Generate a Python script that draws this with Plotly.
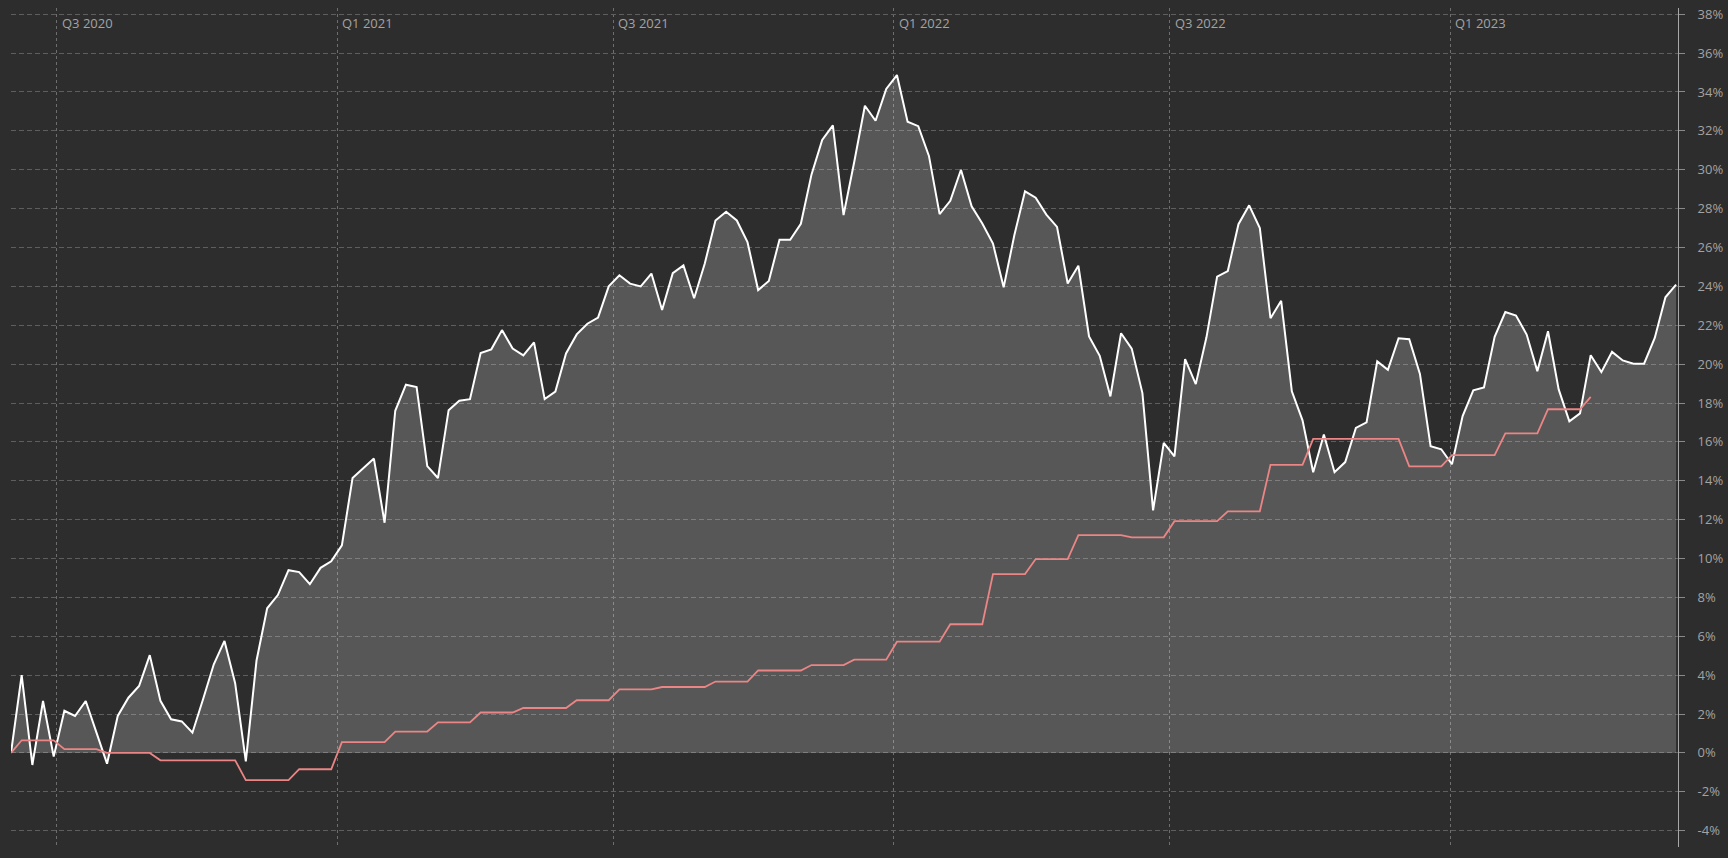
import pandas as pd
import plotly.graph_objects as go

# weekly series, values in percent
start_date = "2020-06-01"

portfolio = [
    0, 4.0, -0.62, 2.67, -0.19, 2.17, 1.90, 2.67, 1.06, -0.56,
    1.9, 2.84, 3.44, 5.03, 2.68, 1.73, 1.62, 1.04, 2.77, 4.56,
    5.76, 3.59, -0.44, 4.74, 7.44, 8.12, 9.40, 9.30, 8.68, 9.52,
    9.86, 10.68, 14.14, 14.65, 15.14, 11.84, 17.6, 18.94, 18.82, 14.75,
    14.14, 17.63, 18.12, 18.2, 20.57, 20.76, 21.75, 20.8, 20.45, 21.12,
    18.2, 18.59, 20.55, 21.53, 22.08, 22.39, 24.0, 24.57, 24.14, 24.0,
    24.66, 22.78, 24.68, 25.08, 23.39, 25.18, 27.39, 27.84, 27.39, 26.28,
    23.81, 24.28, 26.4, 26.4, 27.22, 29.76, 31.53, 32.28, 27.67, 30.4,
    33.29, 32.52, 34.16, 34.87, 32.47, 32.24, 30.71, 27.72, 28.4, 30.0,
    28.12, 27.23, 26.2, 23.95, 26.63, 28.89, 28.56, 27.69, 27.06, 24.15,
    25.06, 21.42, 20.43, 18.34, 21.59, 20.8, 18.51, 12.48, 15.95, 15.26,
    20.26, 18.97, 21.38, 24.5, 24.79, 27.2, 28.17, 27.0, 22.36, 23.26,
    18.6, 17.11, 14.44, 16.38, 14.44, 14.96, 16.72, 17.0, 20.14, 19.71,
    21.33, 21.28, 19.5, 15.78, 15.62, 14.85, 17.33, 18.65, 18.8, 21.4,
    22.68, 22.5, 21.52, 19.64, 21.69, 18.7, 17.06, 17.47, 20.46, 19.59,
    20.63, 20.19, 20.02, 20.02, 21.35, 23.44, 24.09,
]

benchmark = [
    0, 0.65, 0.65, 0.65, 0.65, 0.19, 0.19, 0.19, 0.19, 0,
    0, 0, 0, 0, -0.38, -0.38, -0.38, -0.38, -0.38, -0.38,
    -0.38, -0.38, -1.40, -1.40, -1.40, -1.40, -1.40, -0.84, -0.84, -0.84,
    -0.84, 0.55, 0.55, 0.55, 0.55, 0.55, 1.1, 1.1, 1.1, 1.1,
    1.57, 1.57, 1.57, 1.57, 2.08, 2.08, 2.08, 2.08, 2.31, 2.31,
    2.31, 2.31, 2.31, 2.71, 2.71, 2.71, 2.71, 3.27, 3.27, 3.27,
    3.27, 3.39, 3.39, 3.39, 3.39, 3.39, 3.67, 3.67, 3.67, 3.67,
    4.24, 4.24, 4.24, 4.24, 4.24, 4.52, 4.52, 4.52, 4.52, 4.8,
    4.8, 4.8, 4.8, 5.72, 5.72, 5.72, 5.72, 5.72, 6.62, 6.62,
    6.62, 6.62, 9.2, 9.2, 9.2, 9.2, 9.97, 9.97, 9.97, 9.97,
    11.2, 11.2, 11.2, 11.2, 11.2, 11.09, 11.09, 11.09, 11.09, 11.92,
    11.92, 11.92, 11.92, 11.92, 12.43, 12.43, 12.43, 12.43, 14.82, 14.82,
    14.82, 14.82, 16.15, 16.15, 16.15, 16.15, 16.15, 16.15, 16.15, 16.15,
    16.15, 14.74, 14.74, 14.74, 14.74, 15.32, 15.32, 15.32, 15.32, 15.32,
    16.44, 16.44, 16.44, 16.44, 17.68, 17.68, 17.68, 17.68, 18.32,
]

y_ticks = list(range(-4, 39, 2))
y_tick_labels = [f"{v}%" for v in y_ticks]

x_ticks = ["2020-07-01", "2021-01-01", "2021-07-01", "2022-01-01", "2022-07-01", "2023-01-01"]
x_tick_labels = ["Q3 2020", "Q1 2021", "Q3 2021", "Q1 2022", "Q3 2022", "Q1 2023"]

dates = pd.date_range(start_date, periods=len(portfolio), freq="7D")

bg = "#2d2d2d"
label_color = "#a3a3a3"

fig = go.Figure()

fig.add_trace(go.Scatter(
    x=dates, y=portfolio,
    mode="lines",
    line=dict(color="#ffffff", width=2),
    fill="tozeroy",
    fillcolor="rgba(255,255,255,0.2)",
    hoverinfo="skip",
    showlegend=False,
))

fig.add_trace(go.Scatter(
    x=dates[:len(benchmark)], y=benchmark,
    mode="lines",
    line=dict(color="#ec8585", width=1.8),
    hoverinfo="skip",
    showlegend=False,
))

# quarter labels sit inside the plot, just right of each gridline
for d, lab in zip(x_ticks, x_tick_labels):
    fig.add_annotation(
        x=d, y=1, xref="x", yref="paper",
        text=lab, showarrow=False,
        xanchor="left", yanchor="top",
        xshift=3, yshift=-4,
        font=dict(family="Open Sans", size=13, color=label_color),
    )

fig.update_layout(
    width=1728,
    height=858,
    margin=dict(l=11, r=48, t=5, b=11),
    paper_bgcolor=bg,
    plot_bgcolor=bg,
    font=dict(family="Open Sans", size=13, color=label_color),
    xaxis=dict(
        range=[dates[0], dates[-1] + pd.Timedelta(hours=30)],
        tickvals=x_ticks,
        showticklabels=False,
        ticks="",
        showgrid=True,
        gridcolor="#6e6e6e",
        griddash="3px,3px",
        gridwidth=1,
        zeroline=False,
        showline=False,
    ),
    yaxis=dict(
        range=[-4.84, 38.32],
        side="right",
        tickvals=y_ticks,
        ticktext=y_tick_labels,
        ticks="outside",
        ticklen=6,
        tickcolor="#8a8a8a",
        ticklabelstandoff=10,
        showgrid=True,
        gridcolor="#5e5e5e",
        griddash="5px,3px",
        gridwidth=1,
        zeroline=False,
        showline=True,
        linecolor="#a8a8a8",
        linewidth=1,
        tickfont=dict(size=13, color=label_color),
    ),
)

fig.write_html(
    "out.html",
    config={"displayModeBar": False},
    post_script="document.body.style.margin='0';document.body.style.background='#2d2d2d';",
)
